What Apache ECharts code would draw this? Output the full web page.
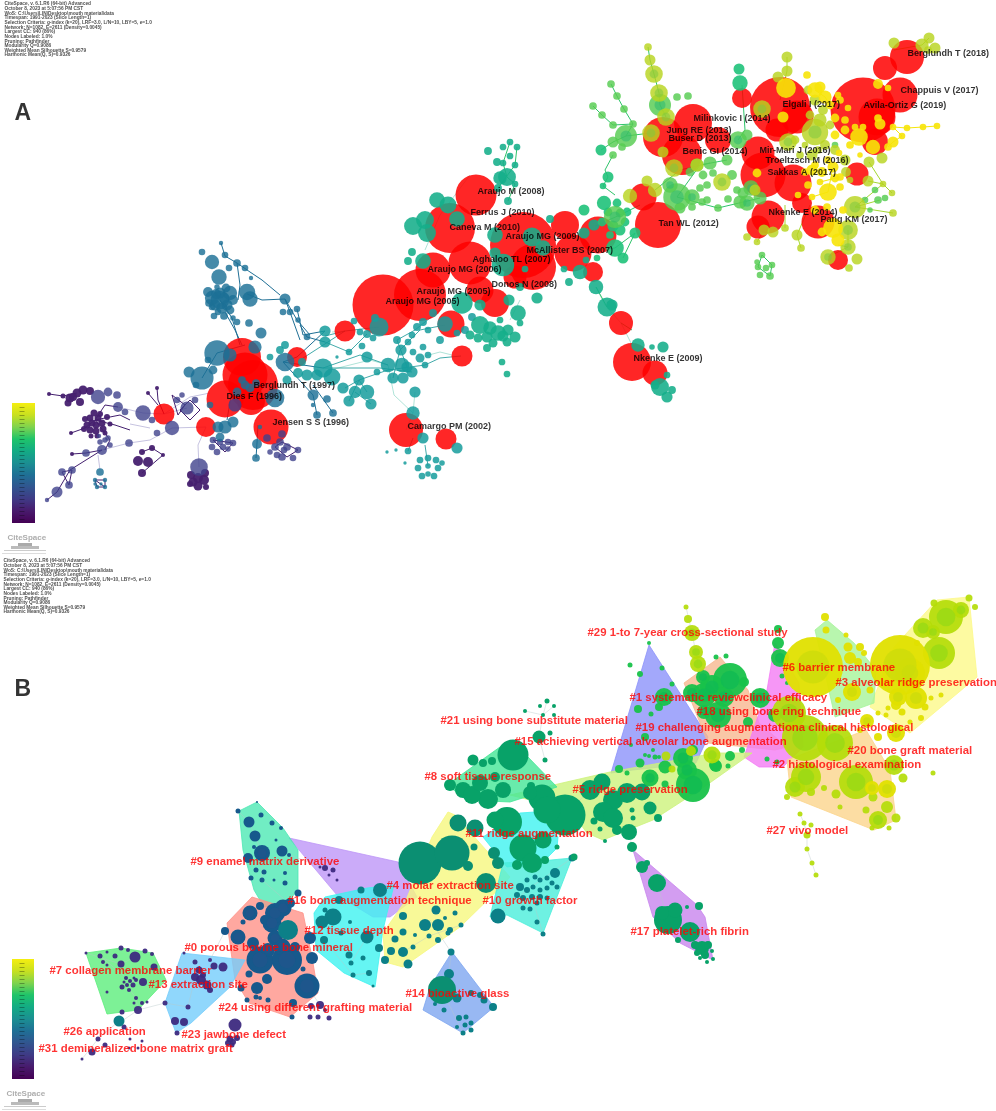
<!DOCTYPE html>
<html lang="en">
<head>
<meta charset="UTF-8">
<title>CiteSpace co-citation network</title>
<script src="https://cdn.jsdelivr.net/npm/echarts@6/dist/echarts.min.js"></script>
<style>
	html, body { margin: 0; padding: 0; background: #fff; }
	#chart { width: 996px; height: 1111px; }
</style>
</head>
<body>
<div id="chart"></div>
<script type="text/javascript">
	// header text of both panels
	var metaLines = [
		"CiteSpace, v. 6.1.R6 (64-bit) Advanced",
		"October 8, 2023 at 5:07:56 PM CST",
		"WoS: C:\\Users\\LIN\\Desktop\\mouth material\\data",
		"Timespan: 1991-2023 (Slice Length=1)",
		"Selection Criteria: g-index (k=20), LRF=3.0, L/N=10, LBY=5, e=1.0",
		"Network: N=1082, E=2611 (Density=0.0045)",
		"Largest CC: 940 (86%)",
		"Nodes Labeled: 1.0%",
		"Pruning: Pathfinder",
		"Modularity Q=0.9086",
		"Weighted Mean Silhouette S=0.9579",
		"Harmonic Mean(Q, S)=0.9326"
	];

	// panel A labels: text, x, y
	var refLabels = [
		["Berglundh T (2018)", 907, 54], ["Chappuis V (2017)", 900, 91], ["Elgali I (2017)", 782, 105],
		["Avila-Ortiz G (2019)", 863, 106], ["Milinkovic I (2014)", 693, 119], ["Jung RE (2013)", 666, 131],
		["Buser D (2013)", 668, 139], ["Benic GI (2014)", 682, 152], ["Mir-Mari J (2016)", 759, 151],
		["Troeltzsch M (2016)", 765, 161], ["Sakkas A (2017)", 767, 173], ["Nkenke E (2014)", 768, 213],
		["Pang KM (2017)", 820, 220], ["Tan WL (2012)", 658, 224], ["Araujo MG (2009)", 505, 237],
		["McAllister BS (2007)", 526, 251], ["Aghaloo TL (2007)", 472, 260], ["Araujo MG (2006)", 427, 270],
		["Caneva M (2010)", 449, 228], ["Ferrus J (2010)", 470, 213], ["Araujo M (2008)", 477, 192],
		["Araujo MG (2005)", 416, 292], ["Araujo MG (2005)", 385, 302], ["Donos N (2008)", 491, 285],
		["Berglundh T (1997)", 253, 386], ["Dies F (1996)", 226, 397], ["Jensen S S (1996)", 272, 423],
		["Camargo PM (2002)", 407, 427], ["Nkenke E (2009)", 633, 359]
	];

	// panel B cluster labels: text, x, y
	var clusterLabels = [
		["#29 1-to 7-year cross-sectional study", 587, 633], ["#6 barrier membrane", 782, 668],
		["#3 alveolar ridge preservation", 835, 683], ["#1 systematic reviewclinical efficacy", 629, 698],
		["#18 using bone ring technique", 696, 712], ["#21 using bone substitute material", 440, 721],
		["#19 challenging augmentationa clinical histological", 635, 728],
		["#15 achieving vertical alveolar bone augmentation", 514, 742], ["#20 bone graft material", 847, 751],
		["#2 histological examination", 772, 765], ["#8 soft tissue response", 424, 777],
		["#5 ridge preservation", 572, 790], ["#27 vivo model", 766, 831], ["#11 ridge augmentation", 465, 834],
		["#9 enamel matrix derivative", 190, 862], ["#4 molar extraction site", 386, 886],
		["#16 bone augmentation technique", 287, 901], ["#10 growth factor", 482, 901],
		["#12 tissue depth", 304, 931], ["#17 platelet-rich fibrin", 630, 932],
		["#0 porous bovine bone mineral", 184, 948], ["#7 collagen membrane barrier", 49, 971],
		["#13 extraction site", 148, 985], ["#14 bioactive glass", 405, 994],
		["#24 using different grafting material", 218, 1008], ["#26 application", 63, 1032],
		["#23 jawbone defect", 181, 1035], ["#31 demineralized bone matrix graft", 38, 1049]
	];

	// colour bar stops, top to bottom
	var barColors = ["#f5ee10", "#c8e020", "#7fd34e", "#1fc46a", "#13ab84", "#1b8f92", "#1f6f95", "#31558f", "#3f3a85", "#481a6c", "#440154"];
	var barBoxes = [[12, 403, 35, 523], [12, 959, 34, 1079]];

	// panel A nodes: x, y, diameter
	var nodesARed = [
		[383, 305, 61], [420, 295, 52], [495, 303, 28], [480, 290, 27], [451, 324, 27], [345, 331, 21], [462, 356, 21], [297, 357, 20],
		[242, 357, 38], [245, 375, 45], [253, 385, 50], [225, 399, 37], [251, 401, 28], [271, 427, 35], [206, 427, 20],
		[164, 414, 21], [406, 430, 34], [446, 439, 21], [476, 195, 41], [450, 228, 50], [470, 263, 43], [433, 270, 35],
		[523, 245, 66], [565, 225, 28], [598, 235, 37], [573, 253, 37], [533, 267, 46], [515, 277, 23], [593, 272, 20],
		[621, 323, 24], [632, 362, 38], [655, 373, 25], [643, 197, 27],
		[658, 225, 46], [693, 123, 38], [663, 137, 40], [682, 155, 40], [718, 140, 26], [742, 98, 20], [780, 107, 60],
		[797, 117, 33], [777, 130, 23], [758, 153, 33], [763, 175, 45], [793, 183, 37], [863, 110, 65], [877, 117, 37],
		[900, 95, 35], [907, 57, 34], [885, 68, 24], [875, 142, 26], [857, 174, 23], [802, 203, 20], [768, 217, 33],
		[758, 227, 23], [818, 222, 33], [838, 260, 20]
	];
	var nodesAPurple = [
		[49, 394, 4], [63, 396, 5], [70, 398, 9], [77, 393, 9], [83, 390, 9], [90, 391, 8], [80, 402, 8], [68, 403, 7], [73, 397, 8],
		[87, 425, 7], [90, 418, 7], [94, 413, 7], [98, 418, 7], [102, 423, 7], [96, 425, 7], [90, 430, 7], [96, 431, 7], [103, 429, 7],
		[85, 419, 6], [92, 423, 7], [100, 414, 6], [107, 417, 6], [110, 424, 5], [84, 429, 6], [105, 433, 5], [91, 436, 5], [97, 436, 5],
		[71, 433, 4], [72, 454, 4], [163, 455, 4], [198, 478, 10], [193, 482, 9], [204, 480, 10], [198, 486, 9], [191, 475, 8], [205, 473, 8], [190, 484, 6], [206, 487, 6],
		[142, 473, 8], [138, 461, 10], [148, 462, 10], [142, 452, 6], [152, 448, 6], [157, 388, 4], [148, 393, 4]
	];
	var nodesAViolet = [
		[105, 440, 5], [100, 442, 5], [110, 445, 5], [102, 450, 9], [108, 438, 5], [99, 436, 4], [86, 453, 7], [57, 492, 10], [47, 500, 4],
		[62, 472, 7], [72, 470, 7], [69, 485, 7], [129, 443, 7], [199, 467, 16], [143, 413, 14], [157, 433, 6], [172, 428, 13],
		[187, 408, 12], [177, 400, 6], [108, 392, 8], [117, 395, 7], [98, 397, 13], [118, 407, 9], [125, 412, 6], [152, 420, 6], [182, 395, 5], [195, 400, 6],
		[213, 440, 6], [220, 442, 6], [228, 442, 6], [233, 443, 6], [212, 447, 6], [223, 447, 6], [217, 452, 6], [228, 449, 5], [235, 405, 12], [267, 438, 7], [282, 434, 7],
		[275, 447, 7], [280, 442, 7], [287, 447, 7], [282, 457, 7], [298, 450, 6], [293, 458, 6], [277, 455, 6], [284, 450, 6], [270, 452, 5]
	];
	var nodesABlue = [
		[212, 262, 13], [219, 277, 14], [225, 255, 6], [202, 252, 6], [237, 263, 7], [245, 268, 6], [229, 268, 6], [221, 243, 4], [251, 278, 4],
		[230, 293, 13], [212, 298, 13], [220, 300, 17], [227, 305, 10], [215, 305, 10], [222, 308, 10], [230, 310, 8], [220, 293, 10], [217, 287, 5], [224, 298, 10], [218, 312, 6], [212, 307, 6],
		[208, 292, 9], [216, 294, 9], [226, 288, 8], [233, 300, 9], [209, 303, 7], [224, 316, 7], [214, 316, 6], [233, 318, 5],
		[247, 292, 15], [250, 299, 14], [249, 323, 7], [237, 322, 6], [285, 299, 10], [297, 309, 6], [290, 312, 6], [283, 312, 6], [298, 320, 5], [307, 337, 6],
		[217, 353, 23], [202, 378, 21], [189, 372, 10], [261, 333, 10], [255, 347, 12], [230, 355, 12], [285, 362, 17], [275, 398, 17], [250, 388, 8], [245, 385, 8], [237, 392, 8], [242, 380, 7], [256, 383, 7],
		[225, 427, 12], [218, 427, 10], [220, 437, 8], [233, 422, 10], [210, 405, 6], [257, 444, 9], [256, 458, 7], [260, 427, 4], [213, 370, 8], [196, 385, 6], [208, 360, 6],
		[100, 472, 7], [95, 480, 4], [105, 480, 4], [97, 487, 4], [105, 487, 4], [95, 484, 3], [101, 484, 3], [313, 395, 10], [313, 405, 4], [317, 415, 7], [333, 413, 7], [327, 399, 7]
	];
	var nodesATeal = [
		[323, 368, 17], [332, 377, 15], [317, 375, 10], [307, 375, 10], [298, 373, 9], [287, 380, 8], [280, 350, 7], [285, 345, 7], [270, 357, 6], [302, 362, 7], [325, 331, 10], [325, 342, 10],
		[343, 388, 10], [355, 392, 11], [367, 392, 13], [349, 401, 10], [371, 404, 10], [359, 380, 10], [367, 357, 10], [349, 352, 6], [362, 346, 6], [337, 357, 3], [354, 321, 6], [360, 332, 6], [367, 334, 7], [375, 318, 7], [373, 338, 6], [379, 327, 17],
		[388, 365, 13], [402, 365, 13], [412, 372, 10], [403, 378, 10], [393, 378, 10], [377, 372, 6], [401, 350, 10], [413, 352, 6], [423, 347, 6], [425, 365, 6], [407, 367, 10], [420, 358, 8], [428, 355, 6],
		[415, 392, 10], [413, 413, 12], [423, 438, 10], [457, 448, 10], [408, 451, 6], [396, 450, 3], [387, 452, 3], [405, 463, 3],
		[428, 458, 6], [420, 460, 6], [436, 460, 6], [418, 468, 6], [438, 468, 6], [422, 476, 6], [434, 476, 6], [428, 474, 5], [428, 466, 5], [442, 463, 5],
		[445, 324, 14], [423, 322, 7], [417, 327, 7], [433, 313, 7], [472, 317, 7], [465, 330, 7], [457, 333, 6], [412, 335, 6], [428, 330, 6], [440, 340, 7], [397, 340, 7], [408, 342, 6]
	];
	var nodesATealGreen = [
		[480, 325, 16], [487, 337, 10], [498, 333, 14], [508, 330, 10], [515, 337, 10], [507, 342, 8], [493, 343, 8], [487, 348, 7], [470, 335, 8], [500, 320, 6], [520, 323, 6], [490, 328, 12], [503, 336, 10], [478, 338, 8],
		[518, 313, 14], [509, 300, 10], [537, 298, 10], [502, 362, 6], [507, 374, 6], [462, 303, 19], [480, 305, 10],
		[510, 142, 6], [517, 147, 6], [503, 147, 6], [510, 156, 6], [503, 163, 6], [515, 165, 6], [507, 177, 16], [500, 178, 12], [515, 184, 6], [508, 201, 7], [498, 188, 7],
		[488, 151, 7], [497, 162, 7], [437, 200, 14], [413, 226, 16], [425, 220, 16], [427, 233, 16], [448, 205, 15], [412, 252, 7], [408, 261, 7], [423, 261, 14], [457, 219, 14], [495, 253, 10], [503, 265, 20], [520, 287, 7], [525, 269, 6],
		[495, 235, 14], [532, 237, 17], [550, 219, 7], [584, 233, 10], [594, 225, 10], [580, 272, 13], [569, 282, 7], [564, 269, 6], [586, 260, 6], [543, 248, 14],
		[596, 287, 13], [607, 307, 17], [612, 305, 10], [638, 345, 12], [663, 347, 10], [652, 347, 5], [660, 387, 16], [667, 375, 6], [667, 397, 10], [672, 390, 7], [655, 385, 8]
	];
	var nodesAGreen = [
		[739, 69, 10], [740, 83, 14], [584, 210, 10], [604, 203, 13], [615, 248, 16], [623, 258, 10], [635, 233, 10], [597, 258, 6], [620, 230, 10], [610, 235, 7],
		[617, 203, 8], [620, 213, 8], [608, 212, 8], [627, 212, 8], [602, 222, 8], [613, 226, 10], [625, 222, 8], [608, 177, 10], [603, 186, 6], [601, 150, 10]
	];
	var nodesABright = [
		[615, 217, 20], [613, 142, 10], [626, 136, 20], [613, 155, 7], [622, 147, 7], [633, 124, 7], [613, 125, 7], [602, 115, 7], [593, 106, 7], [624, 109, 7], [617, 96, 7], [611, 84, 7],
		[660, 105, 20], [677, 97, 7], [688, 96, 7], [677, 197, 25], [692, 197, 14], [670, 185, 14], [680, 208, 10], [692, 207, 7], [702, 202, 7], [718, 208, 7], [707, 200, 7], [728, 199, 7],
		[738, 140, 16], [747, 135, 10], [727, 160, 10], [710, 163, 12], [697, 165, 12], [732, 175, 9], [707, 185, 7], [700, 188, 7], [713, 173, 7], [737, 190, 7], [690, 172, 8], [703, 175, 8],
		[740, 202, 12], [747, 203, 14], [760, 198, 12], [751, 188, 14], [743, 193, 10], [762, 255, 6], [758, 267, 6], [766, 268, 6], [772, 265, 6], [760, 275, 6], [770, 276, 7], [757, 262, 5],
		[865, 200, 6], [875, 190, 6], [878, 200, 7], [870, 210, 5], [885, 198, 6], [835, 145, 6]
	];
	var nodesALime = [
		[630, 196, 13], [722, 182, 16], [648, 47, 7], [650, 60, 10], [654, 74, 16], [659, 93, 16], [666, 117, 16], [651, 133, 16], [663, 152, 10], [674, 168, 16], [655, 190, 13], [647, 181, 10],
		[697, 165, 12], [762, 109, 16], [787, 57, 10], [787, 71, 10], [778, 77, 10], [815, 132, 24], [788, 142, 16], [869, 162, 10], [868, 181, 10], [883, 184, 6], [892, 193, 6], [882, 158, 10],
		[893, 213, 7], [855, 207, 20], [848, 230, 18], [848, 247, 14], [828, 257, 14], [857, 259, 10], [849, 268, 7], [797, 235, 10], [801, 248, 7], [785, 228, 7], [773, 232, 10], [764, 230, 10],
		[747, 237, 7], [757, 242, 6], [894, 43, 10], [929, 38, 10], [922, 45, 12], [935, 48, 10], [928, 50, 7], [820, 120, 12], [835, 150, 9], [812, 155, 10], [845, 160, 10], [755, 190, 10],
		[808, 90, 8], [815, 100, 10], [823, 110, 9], [830, 125, 8], [810, 115, 8], [800, 155, 7], [825, 145, 9], [818, 150, 7], [805, 145, 6], [795, 140, 8], [846, 172, 9], [850, 180, 6]
	];
	var nodesAYellow = [
		[786, 88, 18], [783, 117, 10], [878, 84, 9], [888, 88, 6], [840, 100, 7], [848, 108, 6], [859, 137, 16], [873, 147, 13], [845, 130, 8], [855, 127, 6], [863, 127, 6], [878, 118, 7], [880, 124, 10],
		[893, 127, 6], [907, 128, 6], [923, 127, 6], [937, 126, 6], [902, 136, 6], [893, 142, 10], [888, 147, 7], [840, 177, 7], [833, 167, 10], [820, 182, 6], [828, 192, 16], [839, 153, 6],
		[827, 207, 7], [812, 197, 6], [833, 228, 18], [815, 210, 8], [843, 210, 7], [815, 90, 14], [825, 97, 12], [820, 87, 10], [807, 75, 7], [830, 105, 8], [835, 118, 8], [757, 173, 8],
		[828, 160, 7], [815, 165, 7], [805, 172, 7], [798, 195, 6], [850, 145, 7], [860, 155, 5], [838, 240, 12], [822, 232, 8],
		[835, 135, 8], [845, 120, 7], [838, 95, 6], [812, 170, 10], [822, 172, 9], [835, 178, 8], [840, 187, 7], [808, 185, 7]
	];

	// panel A edges: x, y, x, y ...
	var edgesAPurple = [
		[49, 394, 63, 396, 77, 393], [71, 433, 85, 428, 95, 420], [95, 420, 105, 405, 118, 407], [95, 420, 110, 440, 105, 450], [95, 420, 120, 415, 130, 420],
		[95, 420, 115, 425, 130, 430], [72, 454, 86, 453, 102, 450], [47, 500, 57, 492, 70, 470, 102, 450], [142, 452, 152, 448, 163, 455, 142, 473], [157, 388, 158, 400, 164, 414],
		[148, 393, 158, 405], [62, 472, 69, 485, 72, 470, 62, 472], [95, 480, 105, 480, 105, 487, 97, 487, 95, 480, 105, 487], [172, 395, 185, 405, 178, 415, 172, 395],
		[190, 400, 200, 410, 190, 420, 180, 410, 190, 400], [213, 440, 225, 452, 233, 443, 213, 440], [275, 447, 287, 457, 298, 450, 282, 442, 275, 447]
	];
	var edgesALavender = [
		[118, 407, 143, 413, 164, 414, 187, 408], [102, 450, 129, 443, 150, 440, 172, 428], [172, 428, 206, 427], [199, 467, 198, 445, 206, 427],
		[164, 414, 190, 397, 210, 393], [130, 424, 150, 428], [100, 470, 98, 455]
	];
	var edgesABlue = [
		[220, 300, 232, 318, 240, 345], [225, 312, 235, 330, 242, 345], [247, 294, 262, 300, 285, 299, 297, 320, 310, 335], [237, 263, 250, 272, 262, 280, 280, 295],
		[221, 243, 225, 256, 237, 263, 240, 285, 238, 300], [297, 357, 325, 331], [297, 357, 283, 362, 323, 368], [202, 378, 217, 353, 245, 345], [283, 362, 313, 395, 317, 415],
		[313, 385, 333, 413], [257, 443, 258, 425], [256, 458, 257, 443], [227, 420, 232, 390], [285, 299, 290, 312, 300, 340], [300, 325, 307, 337, 325, 342], [297, 309, 303, 335, 325, 331]
	];
	var edgesATeal = [
		[323, 368, 360, 355, 388, 365], [325, 336, 345, 331, 379, 327], [345, 388, 359, 380, 388, 370, 425, 365], [393, 378, 400, 350, 420, 330, 445, 325],
		[407, 367, 397, 340, 415, 330, 440, 310], [461, 356, 440, 358, 425, 365], [408, 451, 413, 438], [428, 466, 425, 445], [300, 360, 345, 331],
		[323, 368, 380, 368, 412, 372], [367, 392, 359, 380, 349, 401], [355, 392, 371, 404], [325, 342, 349, 352, 367, 334]
	];
	var edgesAPale = [
		[388, 365, 394, 395, 413, 413, 406, 430], [415, 392, 413, 413], [425, 356, 440, 352, 452, 355], [330, 370, 370, 360, 388, 365], [332, 332, 345, 331],
		[470, 175, 440, 215, 425, 250], [520, 300, 510, 320], [596, 287, 605, 305, 621, 323, 632, 345]
	];
	var edgesAGreen = [
		[601, 150, 613, 142, 626, 136, 651, 133], [626, 136, 633, 124, 613, 125, 602, 115, 593, 106], [633, 124, 624, 109, 617, 96, 611, 84], [613, 155, 605, 170, 608, 177, 603, 186, 615, 195],
		[660, 105, 659, 93, 654, 74, 650, 60, 648, 47], [660, 105, 666, 117], [677, 197, 700, 165, 727, 160], [677, 197, 718, 208, 760, 198], [655, 190, 680, 170, 710, 163],
		[742, 85, 745, 130, 738, 140], [510, 142, 503, 163, 507, 177, 515, 184, 508, 201], [517, 147, 515, 165, 498, 188], [635, 233, 623, 258], [595, 226, 620, 215, 640, 205],
		[590, 250, 615, 248, 635, 233], [762, 255, 772, 265, 770, 276, 758, 267, 762, 255], [596, 287, 607, 307], [632, 330, 621, 323]
	];
	var edgesALime = [
		[787, 57, 787, 71, 780, 100], [855, 207, 883, 184, 892, 193], [883, 184, 869, 162], [855, 207, 893, 213], [855, 207, 880, 200], [848, 230, 848, 247, 828, 257], [797, 235, 801, 248],
		[764, 230, 757, 242], [810, 205, 797, 235], [785, 205, 785, 228], [838, 245, 848, 247], [868, 181, 883, 184], [929, 38, 922, 45, 894, 50]
	];
	var edgesAYellow = [
		[880, 124, 893, 127, 907, 128, 923, 127, 937, 126], [893, 127, 902, 136, 893, 142, 888, 147], [833, 167, 828, 192, 812, 197], [840, 177, 820, 182], [845, 130, 859, 137, 873, 147], [815, 90, 825, 97, 830, 105, 835, 118]
	];

	// panel B cluster hulls: x, y ...
	var hullPurple = [289, 838, 398, 862, 417, 897, 390, 917, 373, 917, 337, 895];
	var hullTeal = [239, 811, 257, 802, 283, 828, 298, 850, 298, 890, 285, 905, 264, 907, 254, 890, 243, 850];
	var hullTissue = [314, 913, 325, 897, 367, 888, 394, 885, 387, 913, 383, 930, 375, 987, 344, 973, 316, 950];
	var hullMolar = [448, 812, 455, 815, 510, 877, 505, 883, 460, 927, 403, 967, 385, 962, 383, 933, 406, 900, 432, 837];
	var hullRidge = [483, 837, 520, 813, 535, 812, 558, 837, 557, 848, 543, 862, 507, 867];
	var hullGrowth = [503, 863, 551, 860, 572, 858, 543, 933, 507, 915, 490, 917, 494, 900];
	var hullPorous = [252, 897, 303, 913, 312, 957, 318, 993, 290, 1017, 249, 1003, 235, 980, 227, 923];
	var hullCollagen = [86, 953, 121, 948, 153, 953, 166, 980, 138, 1010, 107, 1014];
	var hullExtraction = [182, 953, 245, 960, 230, 987, 191, 1023, 176, 1033, 165, 1003];
	var hullGlass = [452, 952, 494, 1007, 463, 1033, 423, 1010, 430, 987];
	var hullReview = [649, 645, 708, 737, 696, 763, 633, 770, 611, 773];
	var hullBoneRing = [720, 657, 748, 690, 759, 723, 787, 747, 775, 750, 708, 743, 684, 683];
	var hullMagenta = [775, 643, 799, 683, 803, 747, 783, 767, 759, 767, 744, 757, 767, 690];
	var hullPreserve = [510, 795, 610, 772, 716, 753, 752, 753, 704, 787, 653, 820, 603, 840, 587, 833, 570, 810];
	var hullSoft = [447, 785, 500, 747, 528, 757, 557, 787, 510, 802, 467, 800];
	var hullHisto = [791, 797, 787, 760, 866, 730, 890, 770, 896, 820, 874, 830];
	var hullAlveolar = [894, 647, 937, 600, 969, 597, 977, 677, 910, 733, 870, 707];
	var hullBarrier = [827, 620, 854, 643, 876, 670, 874, 703, 835, 717, 815, 630];
	var hullFibrin = [633, 850, 697, 905, 705, 917, 713, 960, 680, 943, 653, 917];

	// panel B nodes: x, y, diameter
	var nodesBPurple = [
		[135, 957, 11], [121, 964, 7], [121, 948, 5], [128, 950, 4], [145, 951, 5], [152, 954, 4], [154, 967, 7], [100, 956, 5], [107, 952, 3], [115, 956, 5], [86, 953, 3], [103, 962, 4], [107, 965, 3],
		[126, 978, 4], [130, 981, 4], [133, 985, 5], [127, 985, 4], [122, 987, 5], [136, 980, 4], [129, 990, 4], [124, 982, 3], [134, 978, 3], [143, 982, 8], [107, 992, 3], [136, 998, 4], [147, 1002, 3], [142, 1003, 4], [134, 1003, 3],
		[138, 1010, 8], [122, 1012, 5], [124, 1027, 5], [98, 1039, 5], [105, 1045, 5], [92, 1052, 7], [82, 1059, 3], [130, 1039, 3], [142, 1041, 3], [129, 1048, 3], [138, 1048, 3],
		[235, 1025, 13], [230, 1039, 7], [233, 1042, 6], [228, 1043, 6], [237, 1038, 6], [232, 1045, 5], [175, 1021, 8], [184, 1022, 8], [188, 1007, 5], [177, 1033, 5], [165, 1003, 5],
		[199, 970, 7], [195, 962, 5], [184, 953, 3], [201, 980, 10], [207, 985, 9], [195, 977, 8], [210, 990, 6], [203, 975, 6], [223, 967, 9], [214, 966, 7], [210, 960, 4],
		[320, 1005, 8], [311, 1006, 6], [310, 1017, 5], [318, 1017, 5], [329, 1018, 5], [325, 1010, 4], [325, 868, 6], [333, 870, 5], [320, 867, 3], [329, 875, 3], [337, 880, 3]
	];
	var nodesBNavy = [
		[260, 960, 27], [287, 960, 30], [307, 986, 25], [312, 958, 12], [272, 923, 19], [275, 913, 20], [283, 908, 17], [290, 903, 10], [275, 938, 15], [265, 920, 10], [253, 943, 12], [268, 950, 14], [282, 947, 17], [295, 947, 10], [310, 938, 12], [303, 969, 5],
		[250, 913, 15], [238, 937, 15], [225, 931, 8], [243, 922, 5], [260, 906, 8], [257, 988, 12], [267, 979, 10], [249, 974, 7], [241, 988, 7], [256, 997, 5], [268, 1000, 5], [260, 998, 4], [247, 1000, 5], [292, 1017, 5], [293, 1003, 8], [298, 893, 7],
		[249, 822, 11], [255, 836, 11], [238, 811, 5], [261, 815, 5], [257, 802, 2], [272, 823, 5], [281, 828, 4], [262, 853, 16], [248, 858, 10], [282, 851, 11], [254, 847, 4], [276, 840, 3], [289, 855, 4],
		[256, 870, 5], [264, 872, 5], [251, 878, 5], [262, 880, 5], [285, 883, 5], [285, 873, 4], [274, 880, 3]
	];
	var nodesBTeal = [
		[119, 1021, 11], [288, 930, 20], [333, 917, 17], [322, 922, 13], [324, 940, 8], [367, 937, 13], [349, 955, 7], [341, 933, 5], [363, 958, 5], [369, 973, 6], [353, 975, 5], [351, 963, 5], [379, 948, 8],
		[350, 922, 4], [361, 890, 7], [380, 890, 14], [339, 900, 8], [325, 910, 5], [373, 986, 3], [403, 932, 7], [395, 939, 7], [436, 910, 9], [425, 925, 12], [438, 925, 12], [450, 930, 6], [415, 935, 4], [429, 936, 5], [438, 940, 6],
		[448, 933, 5], [461, 925, 5], [455, 913, 5], [445, 918, 4], [391, 951, 8], [403, 952, 10], [413, 947, 5], [385, 960, 8], [408, 964, 9], [403, 916, 8],
		[498, 916, 15], [555, 873, 10], [572, 858, 7], [543, 934, 5], [537, 922, 5], [527, 880, 5], [535, 877, 5], [540, 880, 5], [547, 878, 5], [552, 883, 5], [557, 887, 5], [547, 888, 5], [540, 890, 5], [533, 887, 5], [527, 890, 6], [520, 887, 8], [517, 895, 6], [523, 898, 6], [532, 897, 6], [540, 897, 6], [547, 898, 5], [523, 908, 5], [530, 909, 5], [537, 903, 5],
		[449, 974, 10], [451, 952, 7], [434, 987, 8], [457, 998, 9], [471, 993, 6], [480, 995, 6], [484, 1000, 7], [493, 1007, 8], [444, 1010, 5], [435, 1004, 4], [459, 1018, 6], [466, 1017, 5], [465, 1025, 5], [457, 1027, 4], [471, 1023, 5], [471, 1030, 5], [463, 1033, 5]
	];
	var nodesBDeepGreen = [
		[420, 863, 43], [452, 853, 35], [486, 883, 20], [458, 823, 17], [475, 828, 17], [468, 866, 10], [494, 853, 12], [498, 863, 12], [474, 847, 7], [442, 990, 28]
	];
	var nodesBGreenTeal = [
		[513, 755, 31], [473, 760, 11], [483, 763, 8], [492, 761, 8], [450, 785, 12], [488, 799, 20], [463, 790, 16], [472, 795, 18], [480, 783, 16], [503, 790, 16], [495, 777, 10], [531, 786, 8],
		[542, 798, 27], [530, 793, 14], [565, 815, 41], [547, 810, 27], [543, 840, 17], [507, 822, 30], [495, 820, 17], [523, 848, 27], [532, 863, 20], [517, 865, 10], [545, 860, 8], [557, 847, 5], [574, 857, 7],
		[590, 790, 20], [602, 782, 17], [613, 800, 20], [627, 793, 20], [642, 792, 17], [603, 812, 20], [613, 818, 20], [650, 808, 13], [658, 818, 8], [632, 810, 5], [633, 818, 5], [594, 821, 7], [600, 829, 5], [605, 841, 4], [617, 830, 10], [629, 832, 16], [632, 847, 10],
		[539, 737, 13], [545, 760, 5], [547, 701, 5], [525, 711, 4], [540, 706, 4], [554, 706, 4], [543, 715, 4], [554, 715, 4], [550, 733, 5],
		[642, 867, 12], [647, 863, 6], [657, 883, 18], [668, 920, 28], [675, 910, 15], [662, 913, 14], [690, 932, 20], [699, 906, 8], [687, 907, 4], [678, 940, 6], [702, 948, 14], [695, 945, 8], [708, 945, 8], [705, 955, 8], [697, 953, 6], [712, 951, 4], [713, 959, 4], [700, 958, 4], [707, 962, 4]
	];
	var nodesBGreen = [
		[683, 758, 20], [693, 785, 34], [687, 770, 20], [665, 767, 13], [640, 763, 9], [650, 778, 17], [619, 769, 8], [627, 773, 5], [655, 757, 5], [645, 755, 4], [665, 784, 7],
		[649, 643, 4], [630, 665, 5], [640, 674, 6], [662, 668, 5], [672, 684, 5], [664, 697, 18], [638, 709, 8], [651, 714, 5], [659, 707, 8], [645, 737, 8], [631, 745, 4], [653, 750, 4], [649, 756, 4], [659, 757, 4],
		[703, 677, 14], [730, 680, 34], [712, 687, 24], [692, 693, 18], [704, 695, 24], [724, 697, 20], [744, 682, 10], [718, 715, 26], [704, 712, 14], [748, 722, 10], [730, 756, 10], [716, 766, 12], [715, 765, 12], [693, 750, 10], [742, 750, 6], [767, 759, 5], [777, 762, 5], [728, 766, 5],
		[778, 629, 8], [778, 643, 12], [780, 658, 18], [782, 676, 5], [787, 683, 4], [726, 656, 5], [716, 657, 5], [760, 698, 20], [775, 715, 14]
	];
	var nodesBLime = [
		[686, 607, 5], [688, 619, 8], [692, 633, 16], [696, 652, 14], [698, 664, 16], [666, 756, 9], [672, 769, 7], [691, 751, 10], [712, 755, 17], [789, 713, 34], [805, 738, 46], [835, 743, 36], [806, 777, 30], [795, 787, 20], [811, 792, 8], [787, 797, 6],
		[856, 782, 34], [894, 765, 20], [836, 794, 9], [878, 820, 18], [887, 807, 12], [896, 818, 9], [872, 828, 5], [889, 828, 5], [866, 810, 7], [873, 797, 9], [840, 807, 5], [824, 788, 6], [903, 778, 9], [933, 773, 5],
		[800, 814, 5], [804, 823, 5], [811, 825, 5], [807, 835, 7], [807, 849, 5], [812, 863, 5], [816, 875, 5], [939, 653, 32], [923, 628, 20], [933, 632, 14], [946, 617, 34], [961, 610, 16], [934, 603, 7], [969, 598, 7], [975, 607, 6]
	];
	var nodesBYellow = [
		[813, 667, 60], [825, 617, 8], [826, 630, 7], [846, 635, 5], [848, 647, 9], [860, 647, 8], [864, 653, 6], [850, 658, 12], [858, 662, 8], [852, 692, 18], [838, 700, 6], [870, 690, 7],
		[900, 665, 60], [910, 673, 30], [917, 643, 6], [916, 698, 22], [898, 697, 18], [925, 707, 7], [896, 705, 10], [888, 708, 5], [902, 712, 7], [941, 695, 5], [931, 698, 5], [921, 718, 6], [910, 722, 5], [896, 733, 18], [867, 721, 14], [860, 730, 6], [878, 737, 8], [886, 715, 5], [878, 713, 5], [887, 789, 18], [872, 788, 14]
	];

	// panel B edges are pale
	var edgesBPale = [
		[86, 953, 121, 964, 135, 957], [100, 956, 130, 981, 143, 982], [130, 990, 136, 998, 138, 1010, 122, 1021], [122, 1012, 119, 1021, 98, 1039, 82, 1059], [138, 1010, 165, 1003],
		[165, 1003, 188, 1007, 195, 977], [210, 960, 225, 931], [238, 811, 249, 822, 255, 836, 262, 853, 262, 880, 285, 900], [289, 855, 325, 868], [307, 986, 320, 1005],
		[324, 940, 353, 975, 369, 973], [367, 937, 351, 963], [403, 952, 429, 936, 461, 925], [498, 916, 527, 890, 572, 858], [543, 934, 532, 897], [451, 952, 449, 974, 442, 990, 463, 1033],
		[451, 952, 430, 920], [547, 701, 543, 715, 539, 737, 545, 760], [525, 711, 543, 715], [554, 706, 543, 715], [686, 607, 692, 633, 698, 664], [807, 835, 807, 849, 812, 863, 816, 875],
		[632, 847, 642, 867, 657, 883, 668, 920], [800, 814, 804, 823, 807, 835], [565, 815, 590, 790], [629, 832, 632, 847]
	];

	function toPairs(flat) {
		var out = [];
		for (var i = 0; i < flat.length; i += 2) {
			out.push([flat[i], flat[i + 1]]);
		}
		return out;
	}

	function edgeSeries(chains, color, width, opacity) {
		return {
			type: "lines",
			coordinateSystem: "cartesian2d",
			polyline: true,
			silent: true,
			lineStyle: { color: color, width: width, opacity: opacity },
			data: chains.map(function(c) {
				return { coords: toPairs(c) };
			})
		};
	}

	// panel A small nodes read a bit under size, hence the factor
	function nodeSeries(nodes, color, opacity, factor) {
		return {
			type: "scatter",
			silent: true,
			symbolSize: function(v) { return v[2] * (factor || 1); },
			itemStyle: { color: color, opacity: opacity },
			data: nodes
		};
	}

	// inner dot of the bigger nodes
	function coreSeries(nodes, color, opacity) {
		return {
			type: "scatter",
			silent: true,
			symbolSize: function(v) { return v[2] * 0.55; },
			itemStyle: { color: color, opacity: opacity },
			data: nodes.filter(function(n) { return n[2] >= 14; })
		};
	}

	function hullSeries(points, color) {
		return {
			type: "custom",
			silent: true,
			renderItem: function(params, api) {
				return {
					type: "polygon",
					shape: { points: points.map(function(p) { return api.coord(p); }) },
					style: { fill: color, stroke: color, lineWidth: 1, opacity: 0.8 }
				};
			},
			data: [0]
		};
	}

	function textSeries(items, size, color, weight, z) {
		return {
			type: "scatter",
			silent: true,
			z: z,
			symbolSize: 1,
			itemStyle: { color: "rgba(0,0,0,0)" },
			label: {
				show: true,
				position: "right",
				distance: 0,
				formatter: "{b}",
				fontFamily: "Liberation Sans",
				fontSize: size,
				fontWeight: weight,
				color: color
			},
			data: items.map(function(t) {
				return { name: t[0], value: [t[1], t[2]] };
			})
		};
	}

	function metaItems(x, y0) {
		return metaLines.map(function(line, i) {
			return [line, x, y0 + i * 4.65];
		});
	}

	var barSeries = {
		type: "custom",
		silent: true,
		renderItem: function(params, api) {
			var b = barBoxes[params.dataIndex];
			var p0 = api.coord([b[0], b[1]]);
			var p1 = api.coord([b[2], b[3]]);
			var stops = barColors.map(function(c, i) {
				return { offset: i / (barColors.length - 1), color: c };
			});
			var kids = [{
				type: "rect",
				shape: { x: p0[0], y: p0[1], width: p1[0] - p0[0], height: p1[1] - p0[1] },
				style: { fill: new echarts.graphic.LinearGradient(0, 0, 0, 1, stops) }
			}];
			for (var i = 1; i < 30; i++) {
				kids.push({
					type: "rect",
					shape: { x: p0[0] + 7.5, y: p0[1] + i * 4, width: 5, height: 1 },
					style: { fill: "rgba(0,0,0,0.3)" }
				});
			}
			return { type: "group", children: kids };
		},
		data: [0, 1]
	};

	var series = [
		hullSeries(toPairs(hullPurple), "#be96f8"),
		hullSeries(toPairs(hullTeal), "#4ee8b4"),
		hullSeries(toPairs(hullTissue), "#3ff2f0"),
		hullSeries(toPairs(hullMolar), "#f6f77e"),
		hullSeries(toPairs(hullRidge), "#3ff2f0"),
		hullSeries(toPairs(hullGrowth), "#4aeedb"),
		hullSeries(toPairs(hullPorous), "#ff9288"),
		hullSeries(toPairs(hullCollagen), "#5cee7c"),
		hullSeries(toPairs(hullExtraction), "#74cdfb"),
		hullSeries(toPairs(hullGlass), "#7ea6f0"),
		hullSeries(toPairs(hullReview), "#8c92fa"),
		hullSeries(toPairs(hullBoneRing), "#f8b890"),
		hullSeries(toPairs(hullMagenta), "#f47cf4"),
		hullSeries(toPairs(hullPreserve), "#cdf37c"),
		hullSeries(toPairs(hullSoft), "#44e696"),
		hullSeries(toPairs(hullHisto), "#fbd48c"),
		hullSeries(toPairs(hullAlveolar), "#fdf98a"),
		hullSeries(toPairs(hullBarrier), "#a6f49a"),
		hullSeries(toPairs(hullFibrin), "#c884ee"),

		edgeSeries(edgesBPale, "#b8c8c8", 0.6, 0.7),
		nodeSeries(nodesBPurple, "#3d2a80", 0.95),
		nodeSeries(nodesBNavy, "#17598c", 1),
		coreSeries(nodesBNavy, "#22558c", 0.7),
		nodeSeries(nodesBTeal, "#0c8088", 1),
		nodeSeries(nodesBDeepGreen, "#0b8f72", 1),
		nodeSeries(nodesBGreenTeal, "#08a268", 1),
		nodeSeries(nodesBGreen, "#18c24a", 0.95),
		coreSeries(nodesBGreen, "#10ba52", 0.8),
		nodeSeries(nodesBLime, "#b4dc08", 0.92),
		coreSeries(nodesBLime, "#94d814", 0.7),
		nodeSeries(nodesBYellow, "#e0e000", 0.95),
		coreSeries(nodesBYellow, "#cbdc0c", 0.7),

		edgeSeries(edgesALavender, "#b8b4d8", 1, 0.8),
		edgeSeries(edgesAPale, "#a6e0d4", 1, 0.9),
		nodeSeries(nodesARed, "#ff0000", 0.85),
		edgeSeries(edgesATeal, "#159696", 0.9, 0.9),
		edgeSeries(edgesAPurple, "#44206f", 1, 1),
		edgeSeries(edgesABlue, "#1f6f95", 1, 1),
		edgeSeries(edgesAGreen, "#2fc46a", 1, 1),
		edgeSeries(edgesALime, "#a4d832", 1, 1),
		edgeSeries(edgesAYellow, "#f5e60a", 1, 1),
		nodeSeries(nodesAPurple, "#46206f", 0.95),
		nodeSeries(nodesAViolet, "#40428c", 0.8, 1.1),
		nodeSeries(nodesABlue, "#1c7096", 0.82, 1.1),
		nodeSeries(nodesATeal, "#169c9c", 0.85, 1.12),
		nodeSeries(nodesATealGreen, "#14ae8a", 0.88, 1.12),
		nodeSeries(nodesAGreen, "#1fc27a", 0.9, 1.1),
		nodeSeries(nodesABright, "#55cc50", 0.82, 1.1),
		coreSeries(nodesABright, "#2eba70", 0.55),
		nodeSeries(nodesALime, "#b8d420", 0.82, 1.1),
		coreSeries(nodesALime, "#7ec840", 0.55),
		nodeSeries(nodesAYellow, "#f7e408", 0.9, 1.1),

		barSeries,
		textSeries(metaItems(4, 4), 4.8, "#222", "bold", 20),
		textSeries(metaItems(3, 561), 4.8, "#222", "bold", 20),
		textSeries([["A", 14, 114], ["B", 14, 690]], 23, "#000", "bold", 20),
		textSeries([["CiteSpace", 7, 538], ["CiteSpace", 6, 1094]], 8, "#999", "bold", 20),
		textSeries(refLabels, 9, "#000", "bold", 20),
		textSeries(clusterLabels, 11.4, "#ff0000", "bold", 20)
	];

	var myChart = echarts.init(document.getElementById("chart"));
	myChart.setOption({
		animation: false,
		backgroundColor: "#fff",
		grid: { left: 0, right: 0, top: 0, bottom: 0 },
		xAxis: { type: "value", min: 0, max: 996, show: false },
		yAxis: { type: "value", min: 0, max: 1111, inverse: true, show: false },
		// the little skyline under the CiteSpace logo
		graphic: [543, 1099].map(function(y) {
			return {
				type: "group",
				children: [
					{ type: "rect", shape: { x: 18, y: y, width: 14, height: 3 }, style: { fill: "#aaa" } },
					{ type: "rect", shape: { x: 11, y: y + 3, width: 28, height: 3 }, style: { fill: "#bbb" } },
					{ type: "rect", shape: { x: 4, y: y + 7, width: 42, height: 1 }, style: { fill: "#ccc" } },
					{ type: "rect", shape: { x: 2, y: y + 10, width: 44, height: 1 }, style: { fill: "#ddd" } }
				]
			};
		}),
		series: series
	});
</script>
</body>
</html>
